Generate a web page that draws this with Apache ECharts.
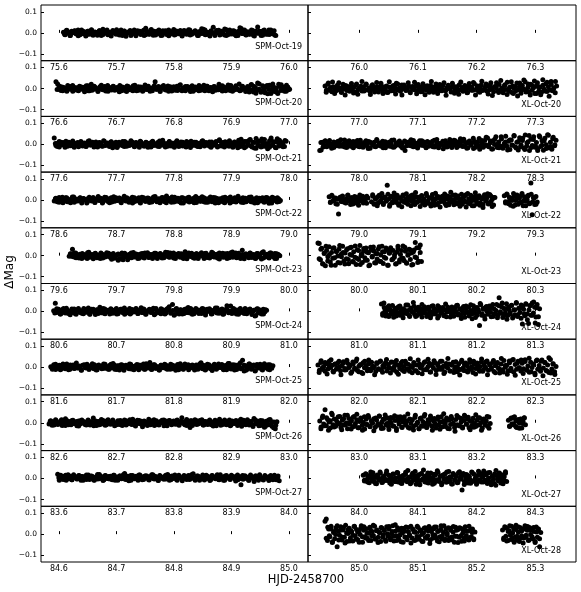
<!DOCTYPE html>
<html><head><meta charset="utf-8">
<script src="https://cdn.jsdelivr.net/npm/echarts@6/dist/echarts.min.js"></script>
<style>html,body{margin:0;padding:0;background:#fff}#c{width:581px;height:592px}</style>
</head><body><div id="c"></div>
<script>
// ---------- tick labels ----------
const leftTicks = [
  [75.6,75.7,75.8,75.9,76.0],[76.6,76.7,76.8,76.9,77.0],[77.6,77.7,77.8,77.9,78.0],
  [78.6,78.7,78.8,78.9,79.0],[79.6,79.7,79.8,79.9,80.0],[80.6,80.7,80.8,80.9,81.0],
  [81.6,81.7,81.8,81.9,82.0],[82.6,82.7,82.8,82.9,83.0],[83.6,83.7,83.8,83.9,84.0],
  [84.6,84.7,84.8,84.9,85.0]];
const rightTicks = [
  [76.0,76.1,76.2,76.3],[77.0,77.1,77.2,77.3],[78.0,78.1,78.2,78.3],[79.0,79.1,79.2,79.3],
  [80.0,80.1,80.2,80.3],[81.0,81.1,81.2,81.3],[82.0,82.1,82.2,82.3],[83.0,83.1,83.2,83.3],
  [84.0,84.1,84.2,84.3],[85.0,85.1,85.2,85.3]];
const yTicks = [-0.1, 0.0, 0.1];
const leftLabels = ['SPM-Oct-19','SPM-Oct-20','SPM-Oct-21','SPM-Oct-22','SPM-Oct-23','SPM-Oct-24','SPM-Oct-25','SPM-Oct-26','SPM-Oct-27',''];
const rightLabels = ['','XL-Oct-20','XL-Oct-21','XL-Oct-22','XL-Oct-23','XL-Oct-24','XL-Oct-25','XL-Oct-26','XL-Oct-27','XL-Oct-28'];

// ---------- observations: time segments (HJD-2458700) and ΔMag values (mmag), two interleaved sets ----------
const spm19T = [[75.608, 75.977],[75.610, 75.975]];
const spm19Y = [[3,-9,12,-2,-13,7,0,10,-5,-14,5,13,-4,2,-10,8,-7,15,-11,4,
0,-6,10,-13,17,-2,7,-9,3,-15,11,2,-7,5,-10,13,-3,8,-16,1,
6,-12,4,14,-5,10,-2,-8,5,-13,22,0,-7,12,-3,8,-10,2,13,-5,
-11,3,10,-2,-14,6,1,16,-8,5,-4,11,-13,2,8,-7,15,-10,3,-1,
10,-5,-12,6,20,-3,13,-8,2,-15,5,26,-6,11,0,-10,8,-2,18,-13,
3,14,-5,10,-8,2,-12,6,21,-3,13,-10,5,-7,0,11,-15,8,28,-2,
6,-11,14,-5,3,-8,13,-3,10,-13],
[-7,11,4,-12,2,9,-4,14,-9,0,6,-15,8,-2,12,-6,3,-11,10,1,
-8,5,13,-3,-10,7,-1,15,-5,4,-13,9,-7,2,11,-4,6,-14,0,8,
-2,12,-9,5,-6,16,-11,3,7,-3,-12,10,1,-8,14,-5,4,-10,9,-1,
6,-15,11,-4,2,13,-7,0,8,-12,5,-3,17,-9,3,-6,10,-2,-13,7,
12,-5,1,-10,15,-8,4,-1,9,-14,6,24,-3,11,-9,2,-6,13,-11,5,
-2,8,-13,10,0,-7,14,-4,6,-10]];
const spm20T = [[76.595, 77.001],[76.597, 76.999]];
const spm20Y = [[32,22,-5,8,-11,3,-7,14,-2,10,-13,5,0,-8,11,-3,6,-15,2,13,
-10,20,-5,8,-2,-11,3,16,-6,10,-3,-13,5,0,11,-8,2,-5,14,-10,
6,-2,-14,10,3,-7,13,-3,-11,8,0,5,-8,17,-5,11,-13,2,6,32,
-3,10,-10,3,14,-6,0,-13,8,-2,5,-8,11,-5,18,-11,2,10,-3,6,
-14,13,0,-6,3,-10,8,-2,16,-5,11,-11,5,-3,10,-8,2,20,-6,13,
-2,-10,6,-5,14,-13,3,8,-3,22,-8,11,0,-11,5,-16,17,-6,10,-22,
26,-3,-18,13,-10,6,-25,16,-5,21,-14,3,-23,10,18,-8,2,-13,6,-3],
[-4,12,-9,6,1,-13,10,-2,15,-7,4,-11,8,0,-5,13,-10,3,-8,11,
2,-14,9,-3,6,-12,14,-1,-7,10,-4,5,-15,8,1,-9,12,-6,3,-11,
16,-2,-8,7,-13,4,11,-5,0,-10,13,-3,6,-14,9,2,-7,12,-4,-12,
8,0,-9,15,-6,3,-11,10,-1,5,-13,7,-3,14,-8,1,-10,11,-5,4,
-15,9,2,-6,12,-12,6,-2,17,-9,3,-7,13,-4,-11,8,1,-14,10,-3,
19,-16,5,-8,22,-12,9,-20,15,-5,-24,12,3,-17,20,-9,7,-13,16,-6]];
const spm21T = [[77.592, 77.995],[77.594, 77.993]];
const spm21Y = [[30,-6,5,-13,10,0,-3,14,-10,6,-2,11,-14,3,8,-5,13,-8,2,-11,
5,16,-3,10,-6,0,-13,8,3,-10,14,-2,6,-5,11,-16,2,10,-8,5,
-3,13,-11,0,6,-6,17,-2,-10,8,3,-14,11,-5,2,10,-8,5,-13,14,
0,-3,8,-11,6,19,-6,2,-10,13,-2,5,-14,10,-5,3,11,-8,0,-13,
8,-3,14,-6,2,10,-11,5,-2,16,-8,6,-5,11,-14,3,0,13,-10,21,
-3,8,-13,5,-6,17,0,-10,11,-2,-16,6,24,-5,13,-11,3,20,-8,10,
-18,27,-3,14,-13,6,23,-10,2,-14,30,-5,11,-17,8,19,-6,3,-11,14],
[4,-11,13,-3,8,-14,2,10,-7,15,-5,0,-12,9,-2,6,-10,14,-4,3,
-13,11,-1,7,-8,16,-6,2,-11,12,-3,5,-15,9,0,-7,13,-9,4,-2,
10,-12,6,-5,14,-1,-9,8,-14,3,11,-6,1,-10,15,-4,7,-13,2,12,
-8,5,-3,17,-11,0,9,-6,13,-2,-15,6,10,-7,3,-12,14,-4,8,-1,
-10,11,-5,4,-13,16,-8,2,12,-3,-9,7,-14,10,-6,19,-11,5,-17,13,
-4,22,-13,8,-19,15,-7,25,-10,3,-21,17,-5,12,-15,26,-8,9,-12,18]];
const spm22T = [[78.592, 78.985],[78.594, 78.983]];
const spm22Y = [[-5,8,0,-11,6,13,-3,10,-8,2,-13,5,14,-6,3,-2,11,-10,6,0,
-14,8,3,-5,10,-11,2,16,-3,6,-8,13,-2,5,-13,10,0,-6,11,-3,
8,-10,3,17,-5,0,-11,6,13,-8,2,-3,10,-14,5,11,-6,0,8,-2,
-10,14,3,-5,6,-13,10,2,-8,19,-3,5,-11,0,13,-6,8,-2,-14,11,
3,-5,10,-10,2,6,-13,16,-3,8,-6,0,11,-11,5,-2,14,-8,3,10,
-5,-13,6,2,-10,13,-3,8,-14,5,0,11,-6,17,-2,-11,10,3,-8,6,
-3,14,-10,5,2,-13,8,-5,11,0,-6,10,-16,3,13,-2,6,-10,5,-3],
[6,-9,12,-2,-13,4,10,-6,0,14,-11,3,-5,9,-14,7,1,-8,13,-3,
11,-12,5,-1,8,-15,2,12,-7,4,-10,15,-4,0,9,-13,6,-2,11,-8,
3,-14,10,-5,7,-11,13,1,-6,9,-12,4,-3,16,-9,2,-7,12,-1,-13,
8,-4,14,-10,5,0,-8,11,-15,6,-2,13,-7,3,10,-12,1,-5,15,-9,
4,-11,9,-3,12,-14,7,0,-6,10,-13,5,-1,14,-8,2,-10,11,-4,6,
-12,8,-2,13,-9,3,-15,10,-5,7,0,-11,12,-6,4,-14,9,-3,11,-7]];
const spm23T = [[79.618, 79.984],[79.620, 79.982]];
const spm23Y = [[-3,8,30,-6,13,0,-11,5,10,-8,2,-14,16,-5,6,-2,11,-10,3,-13,
8,0,-6,14,-3,5,-17,10,-8,2,-22,-13,6,-20,11,-5,3,-10,13,0,
-6,8,-14,5,-2,10,-11,3,14,-8,0,6,-5,11,-13,2,8,-3,-10,16,
5,-6,13,-2,-11,6,0,10,-8,3,-14,19,-5,8,-2,11,-10,5,0,-13,
6,14,-3,10,-8,2,-11,5,13,-6,0,8,-16,3,11,-5,-2,10,-10,6,
17,-3,13,-8,2,-13,26,-5,8,0,-10,11,-3,5,-14,10,2,-6,14,-11,
3,6,-8,13,-2,-5,10,-13,5,0],
[9,-4,12,-10,2,7,-13,5,-1,14,-8,3,-15,10,-6,0,13,-11,4,-3,
11,-9,6,-12,1,8,-16,12,-5,2,-19,7,-10,15,-3,4,-12,9,-7,13,
-1,-9,6,-14,11,2,-5,10,-11,4,-3,15,-8,0,12,-13,7,-2,9,-10,
5,-15,13,-4,1,-12,10,-6,8,-1,-14,11,-9,3,16,-5,6,-11,12,-2,
-8,9,-13,4,14,-7,1,-10,11,-3,6,-15,8,-4,13,-9,2,-12,10,-6,
-16,19,-5,7,-11,12,-2,-14,9,3]];
const spm24T = [[80.591, 80.961],[80.593, 80.959]];
const spm24Y = [[3,38,-5,10,-13,2,14,-8,6,-2,-16,11,0,-10,5,13,-6,3,-11,8,
-3,16,-14,2,10,-5,6,-10,19,0,-8,11,-2,5,-13,8,3,-6,14,-11,
2,10,-3,-14,6,0,13,-8,5,-2,11,-10,3,17,-6,8,-13,0,10,-5,
6,-16,14,-3,2,-11,8,5,-8,13,22,-5,32,-19,10,-2,-13,6,3,-10,
11,-6,0,14,-14,5,-3,8,-10,2,13,-5,-17,10,0,6,-11,3,16,-8,
5,-2,11,-13,8,26,-6,2,-10,14,-3,6,-14,10,0,-5,13,-11,3,8,
-8,2,-22,11,-5,6,-13,10,-2,5],
[-8,12,5,-13,9,-3,15,-10,2,-6,11,-14,7,0,-9,13,-4,6,-12,10,
-1,-15,8,3,-7,14,-11,4,-2,12,-9,6,-13,1,10,-5,16,-8,3,-12,
9,-2,13,-10,5,-6,11,-14,0,8,-4,15,-11,2,-7,12,-3,-13,10,6,
-9,4,-15,13,-1,7,-12,9,-5,18,-8,1,-11,14,-3,5,-10,11,-6,0,
12,-13,4,-2,16,-9,7,-14,3,10,-7,25,-4,8,-12,2,13,-6,-10,9,
-3,11,-15,5,-20,12,-8,4,-12,7]];
const spm25T = [[81.586, 81.972],[81.588, 81.970]];
const spm25Y = [[2,-10,6,13,-5,0,-13,8,3,-8,14,-2,-11,5,10,-6,19,-3,0,-14,
8,11,-5,2,-10,6,16,-8,3,-13,10,-2,5,-6,13,0,-11,8,-3,17,
-10,3,6,-14,11,-5,0,8,-2,-8,13,3,-13,6,-3,10,-6,2,14,-11,
5,-2,22,-10,3,11,-6,0,-14,8,5,-3,10,-11,2,13,-8,6,-5,0,
-13,16,3,-10,8,-2,11,-6,0,5,-14,10,-3,6,20,-8,2,-11,13,-5,
3,-16,10,0,-6,14,-2,8,-10,5,-13,17,-3,6,11,-14,-5,10,2,-8,
32,-19,6,-11,14,0,-6,10,-16,5,-2,13,-10,3,8,-5,11,-13,2,6],
[-5,11,-12,3,8,-9,14,-2,6,-13,10,0,-7,12,-4,5,-15,9,-1,13,
-10,4,-3,11,-14,7,2,-8,15,-6,1,-11,13,-2,9,-12,5,-5,10,-15,
6,-1,14,-9,3,-7,12,-13,8,0,-10,16,-4,5,-12,11,-6,2,-14,9,
-3,13,-8,4,-11,10,1,-15,12,-5,7,-9,14,-2,-13,6,10,-7,3,-11,
15,-4,8,-14,2,11,-8,-3,13,-10,5,-1,12,-13,7,-6,17,-9,0,10,
-12,4,20,-7,9,-15,3,14,-11,6,-19,12,-4,8,-14,16,-2,-10,11,-6]];
const spm26T = [[82.583, 82.979],[82.585, 82.977]];
const spm26Y = [[-6,10,3,-11,14,0,-5,8,-13,5,19,-2,-10,6,11,-3,2,-14,8,-6,
13,3,-8,0,10,-11,5,22,-3,-13,6,2,-6,11,-2,-10,14,-5,3,8,
-14,0,10,-8,5,-3,13,-11,2,6,-5,16,-10,3,-2,11,-6,-19,8,0,
-13,5,10,-3,14,-8,2,-11,6,0,13,-5,-14,10,3,-6,8,-2,11,-10,
5,24,-3,6,-13,2,-22,10,-5,14,-8,0,11,-2,-11,6,3,-6,13,-10,
2,8,-14,5,16,-3,-8,10,0,-5,13,-11,6,-2,3,-13,10,17,-6,2,
-10,14,-3,5,-11,20,-2,8,-14,11,-5,0,-17,6,13,-8,3,-24,-28,5],
[7,-12,3,11,-8,0,14,-5,-13,9,2,-10,12,-3,6,-15,10,-1,5,-11,
13,-6,1,-14,8,4,-9,15,-2,-12,10,3,-7,13,-4,-10,6,11,-13,0,
9,-5,14,-8,2,-15,12,-3,7,-11,5,-1,16,-9,3,-13,10,-6,1,12,
-14,8,-2,11,-10,4,-7,13,-12,6,0,-9,15,-4,9,-13,2,11,-6,-1,
14,-11,5,-8,10,-3,-15,12,-5,7,-12,3,13,-9,1,-14,8,-4,11,-7,
4,-16,12,-2,9,-11,6,-18,14,-5,2,-13,10,-21,7,-9,15,-17,3,-12]];
const spm27T = [[83.598, 83.983],[83.600, 83.981]];
const spm27Y = [[20,-8,12,3,-5,15,7,-2,11,-6,18,4,-3,13,0,9,-8,6,16,2,
-5,12,7,-9,3,19,-2,11,6,-6,14,0,9,-3,4,15,-8,7,2,12,
-2,6,23,-5,11,3,-9,14,0,7,-3,16,4,-6,9,2,12,-5,6,18,
-2,11,3,-8,14,6,0,9,-3,19,4,-6,12,2,7,-9,15,3,-2,11,
6,-5,14,0,9,22,-3,4,12,-8,2,16,6,-2,11,3,-6,14,7,0,
9,-5,18,4,-9,12,2,6,-3,15,7,-2,11,-6,3,-30,14,0,9,4,
-8,16,3,-3,12,6,-9,11,2,-5,14,7,-2,9,3,-6,15,0,4,-11],
[3,15,-4,10,-8,18,2,-6,12,6,-2,14,-9,9,4,-5,16,0,11,-7,
7,-3,19,2,-10,13,5,-1,10,-6,15,3,-8,12,0,17,-4,8,-11,14,
6,-2,11,-9,16,1,-5,13,4,-7,10,18,-3,7,-10,12,2,-4,15,5,
-8,11,0,16,-6,9,3,-11,14,-2,8,-5,17,1,-9,12,6,-3,10,-7,
15,2,-10,13,4,-1,18,-6,9,0,-8,14,3,-5,11,7,-12,16,-2,8,
-4,13,1,-9,10,5,-14,12,-3,17,0,-7,11,4,-10,14,-1,8,-6,12]];

const xl20T = [[76.942, 77.336],[76.944, 77.334]];
const xl20Y = [[12,-8,20,-3,5,-15,9,0,-11,16,-5,3,-19,7,-2,14,-9,4,-13,10,
-1,6,-17,22,-6,2,11,-12,8,-4,18,-7,1,-14,13,-2,5,-10,9,-16,
3,15,-8,0,-5,12,-18,6,-3,10,-11,4,25,-7,2,-13,17,-1,8,-9,
-4,13,-15,5,0,-6,11,-10,19,-2,7,-14,3,9,-8,1,-17,14,-5,6,
-12,21,-3,8,-9,2,16,-6,-11,4,12,-1,-16,7,10,-7,3,-13,18,-4,
5,-10,14,0,-19,9,-2,6,-8,23,-5,11,-14,2,17,-9,-3,8,-12,13,
-6,28,-1,-15,10,4,-11,19,-7,3,-20,15,-4,30,-9,7,-17,12,2,-13,
26,-6,9,-22,14,-2,32,-10,5,-16,20,-8,3,-24,11,27,-12,6,-18,16,
-3,22,-14,8,-7,33,-11,4,-20,12],
[-18,26,-9,31,-24,5,28,-14,20,-30,11,-3,24,-21,15,-27,2,33,-12,22,
-6,-28,18,-16,29,-2,25,-23,8,-19,32,-11,14,-26,21,0,-31,17,-7,27,
-20,10,30,-25,4,-15,23,-29,13,-5,34,-18,7,-24,19,-10,28,-32,16,-1,
25,-22,9,-27,31,-13,3,-20,24,-8,29,-30,12,-17,35,-4,21,-26,14,-33,
6,27,-19,38,-11,18,-28,1,32,-23,10,-35,26,-7,40,-16,22,-31,15,36,
-24,8,-29,42,-12,30,-36,19,-3,34]];
const xl21T = [[77.933, 78.335],[77.935, 78.333]];
const xl21Y = [[-30,-27,10,-5,14,-12,3,18,-8,0,-15,7,-3,12,-10,21,-6,2,-13,9,
-1,16,-9,4,-17,11,-4,6,-11,19,-2,-14,8,1,-7,13,-19,5,-3,10,
-12,17,-5,2,-9,14,-1,-16,7,-6,11,3,-13,20,-8,4,-2,15,-10,6,
-15,-30,9,-4,12,-7,1,18,-11,5,-18,10,-3,16,-6,2,-14,13,-9,7,
0,-12,19,-5,8,-16,4,-1,14,-8,11,-13,3,22,-10,6,-4,17,-15,9,
-2,12,-7,24,-11,5,-17,15,-3,8,-20,13,1,-9,27,-6,10,-14,18,-4,
30,-12,7,-22,16,-1,35,-15,11,-8,25,-19,4,38,-10,14,-25,20,-5,42,
-13,9,-27,31,-3,18,-18,44,-9,12,-30,24,-6,36,-14,8,-22,40,-11,16,
-28,28,-2,45,-17,10,-24,33,-7,19],
[8,-13,17,-4,2,-19,11,-7,14,0,-10,20,-15,5,-2,13,-8,18,-12,3,
-6,16,-20,9,1,-11,22,-5,7,-16,12,-1,-9,19,-14,4,10,-3,-18,15,
-7,6,21,-12,2,-10,17,-4,11,-17,8,-2,14,-13,23,-6,3,-21,16,-9,
5,-15,19,0,-8,26,-11,12,-19,7,-3,29,-14,9,-24,18,-6,33,-10,15,
-22,24,-1,-16,36,-8,11,-27,20,-4,39,-18,13,-12,28,-25,6,41,-15,22,
-9,-30,34,-5,17,-20,43,-11,26,-2]];
const xl22T = [[78.949, 79.015],[79.021, 79.231],[79.247, 79.303],[78.951, 79.013],[79.023, 79.229],[79.249, 79.301]];
const xl22Y = [
[15,-10,22,-4,8,-18,3,-66,12,-7,19,0,-13,6,24,-2,-21,10,-8,16,-15,4,-25,11,-5,18,-11,2,-16,9],
[-8,18,-20,5,12,-14,22,-3,9,-17,14,-6,70,3,-22,16,-9,1,19,-12,
7,-18,11,-4,24,-10,2,-15,13,-1,20,-7,5,-21,15,-11,8,-3,17,-16,
4,-9,21,-5,10,-19,12,-2,-25,6,16,-13,9,-7,18,-1,-17,11,3,-23,
14,-8,22,-4,7,-14,19,-10,2,-20,13,-6,25,-12,5,-18,10,-3,-27,17,
-9,8,20,-15,4,-22,15,-5,11,-19,26,-7,3,-24,12],
[20,-15,28,-8,12,-25,5,-30,18,-3,24,-20,9,-12,30,-6,15,-28,2,22,-18,80,-70,10,-22,16,-10],
[-12,18,-3,9,-20,6,14,-8,1,-15,21,-5,11,-19,4,13,-10,23,-2,-14,8,17],
[25,-18,6,-28,20,-9,31,-22,12,-3,27,-30,16,-13,33,-6,22,-25,9,-32,
18,-11,29,-20,4,-27,24,-15,35,-8,13,-31,21,-2,-24,30,-16,8,-29,26,
-10,32,-21,15,-34,11,-5,28,-26,19,-14,36,-1,-23,23,-18,7,-30,27,-12,
17,-33,30,-7,22,-28,3,34,-19,14,-25,10,-36,25,-4,29,-15,20,-31,12],
[-8,25,-18,10,-3,30,-24,6,16,-12,22,-28,4,-6,19,-15,27,-9,12,-20]];
const xl23T = [[79.930, 80.106],[79.932, 80.104]];
const xl23Y = [[60,58,-20,35,-40,10,-48,25,-5,42,-30,15,-12,38,-45,20,-2,30,-35,8,
45,-25,12,-15,33,-38,5,40,-28,18,-8,-42,28,-18,48,0,-32,22,-10,36,
-22,14,-44,26,-6,41,-34,9,-16,32,-26,3,44,-37,19,-12,29,-46,11,38,
-20,24,-8,-40,16,34,-30,6,-14,46,-24,21,-36,2,30,-18,13,-42,27,62,
-10,-33,37,15,-28],
[-15,30,-38,12,44,-25,6,-45,35,-10,20,-32,48,-5,15,-40,28,-18,38,2,
-30,46,-12,25,-42,8,34,-22,16,-48,40,-3,22,-35,10,42,-28,18,-8,36,
-46,14,30,-16,4,-38,44,-20,24,-12,40,-34,6,28,-44,18,-6,38,-26,50]];
const xl24T = [[81.038, 81.307],[81.040, 81.305]];
const xl24Y = [[35,-18,40,5,-12,20,-25,10,-3,28,-15,2,-22,14,-8,25,-1,-19,12,-6,
30,-11,4,-24,16,-2,42,-14,8,-20,19,-5,11,-27,3,22,-9,15,-17,6,
-30,24,-4,13,-13,1,27,-21,9,-7,18,-16,5,-26,21,-1,14,-10,7,-23,
17,-3,29,-12,10,-18,2,23,-28,12,-6,20,-15,4,-35,26,-8,16,-19,8,
-67,31,-11,13,-22,19,0,-14,25,-4,18,-25,11,-9,33,-17,64,-2,22,-29,
14,-7,36,-20,9,-12,28,-31,6,-16,38,-24,15,-5,30,-60,10,-21,34,-13,
-58,26,-18,40,-8,20,-27,32,-62,12],
[-10,18,-22,8,26,-14,2,-28,15,-5,22,-18,11,-30,6,-8,30,-20,13,-2,
24,-25,4,17,-12,32,-7,10,-24,20,-1,-16,27,-10,5,-32,19,-6,14,-21,
35,-3,9,-27,21,-13,1,28,-17,12,-34,16,-8,25,-4,-22,31,-11,7,-29,
18,-2,37,-19,10,-36,23,-6,15,-26,33,-14,4,-30,26,-9,40,-20,12,-38,
20,-5,29,-24,8,42,-16,14,-33,24,-11,36,-40,6,28,-18,44,-55,17,-26]];
const xl25T = [[81.930, 82.335],[81.932, 82.333]];
const xl25Y = [[10,-15,22,-5,3,-20,16,-9,27,-2,8,-24,13,-11,19,0,-17,6,25,-7,
-13,18,-1,9,-22,14,-6,28,-16,4,11,-26,20,-3,7,-18,15,-10,23,-4,
2,-21,17,-8,26,-14,5,-1,21,-19,12,-5,24,-12,0,16,-25,9,-7,19,
-15,3,28,-9,13,-20,6,-2,22,-17,10,-27,15,-4,8,-13,25,-11,1,18,
-23,12,-6,20,-16,7,-1,27,-10,4,-24,17,-3,14,-19,9,23,-8,2,-22,
16,-12,26,-5,11,-18,5,-14,21,0,-26,13,-7,19,-11,3,24,-20,8,-2,
29,-15,10,-9,22,-21,6,17,-4,-28,14,-13,31,-1,9,-17,20,-6,33,-23,
12,-10,27,-3,-19,18,-8,35,-14,5,-25,23,-2,15,-29,30,-11,7,-20,34,
-5,21,-16,10,-26,36,-9,16,-22,3],
[-26,30,-12,22,-33,8,35,-20,15,-5,28,-36,18,-14,32,-2,-29,24,-9,38,
-22,11,-31,27,-6,34,-17,4,-37,20,-11,29,-25,14,36,-3,-28,23,-15,31,
-34,9,26,-21,17,-8,39,-27,12,-18,33,-1,-32,21,-13,37,-24,6,30,-35,
16,-10,28,-30,3,40,-19,13,-26,25,-4,-38,32,-16,19,-23,35,-7,27,-33,
10,-20,38,-12,24,-36,14,-2,31,-27,21,-9,41,-24,7,-34,29,-17,36,-39,
18,-5,33,-30,26,-14,42,-22,11,-37,34,-8,28,-41,22,-19,44,-28,15,-35]];
const xl26T = [[82.933, 83.223],[83.254, 83.283],[82.935, 83.221],[83.256, 83.281]];
const xl26Y = [
[8,-20,25,-6,62,-14,15,3,-25,45,-9,18,-17,5,28,-3,-22,12,-11,35,
-1,-28,20,-7,10,-19,30,-4,14,-24,6,22,-13,1,-30,17,-8,26,-16,9,
-2,19,-21,13,-5,32,-12,4,-26,16,-10,24,-18,7,-1,21,-15,11,-27,27,
-6,15,-20,3,29,-11,8,-23,18,-4,12,-17,25,-9,2,-29,20,-14,6,31,
-3,-21,14,-7,23,-16,10,-1,-25,17,-12,5,28,-19,9,-5,22,-27,13,-8,
19,-2,-23,15,-10,26,-15,4,-20,11,30,-6,16,-24,7,-13,21,-3,-18,12,
24,-9,1,-26,18,-11,8,-16,27,-4],
[12,-18,20,-5,25,-12,8,-22,15,-2,18,-25,6,22,-10],
[-28,32,-14,24,-35,10,38,-20,16,-6,30,-33,19,-11,36,-2,-30,26,-17,40,
-24,13,-36,28,-8,34,-19,5,-38,22,-12,31,-27,17,37,-4,-32,25,-15,33,
-37,9,29,-22,18,-10,41,-26,14,-34,35,-1,-29,23,-16,39,-23,7,32,-36,
20,-9,27,-31,4,43,-18,12,-28,30,-5,-40,34,-13,21,-25,36,-7,26,-33,
11,-21,38,-12,24,-35,15,-3,30,-26],
[-15,22,-8,28,-20,10,-26,17,-4,24]];
const xl27T = [[84.007, 84.251],[84.009, 84.249]];
const xl27Y = [[15,-12,22,-5,8,-20,18,-2,27,-15,5,-25,12,-8,30,0,-18,10,-3,24,
-10,16,-22,6,-6,20,-14,3,28,-17,9,-1,-24,14,-9,19,-4,38,-13,7,
-19,25,-7,11,-27,2,17,-11,21,-5,40,-16,13,-2,-21,8,26,-10,4,-23,
18,-6,29,-14,10,-30,15,-3,22,-18,1,33,-12,6,-26,19,-8,12,-20,27,
-4,9,-55,24,-15,3,17,-22,11,-7,31,-13,20,-1,-28,14,-10,25,-17,6,
35,-9,16,-24,2,28,-19,10,-5,21,-32,13,-11,26,-3,18,-25,8,32,-14],
[-8,20,-17,4,31,-12,9,-24,16,-3,25,-19,7,-10,35,-6,13,-28,21,-1,
-14,27,3,-21,11,-7,29,-16,6,-25,18,-4,33,-11,14,-30,23,-2,9,-18,
26,-9,1,-27,20,-13,36,-5,12,-22,17,-1,30,-15,8,-26,24,-7,11,-19,
32,-3,15,-29,19,-10,5,-23,28,-12,2,-20,34,-6,16,-17,22,-8,27,-14,
-30,10,-24,38,-2,18,-21,13,-9,25]];
const xl28T = [[84.942, 85.197],[85.244, 85.309],[84.944, 85.195],[85.246, 85.307]];
const xl28Y = [
[61,72,-30,25,-12,38,-40,8,-22,30,-60,15,-5,35,-28,20,-15,42,-35,3,
28,-18,10,-32,36,-8,22,-25,14,-2,40,-38,18,-12,26,-20,5,33,-30,12,
-6,38,-24,20,-15,8,-35,29,-3,17,-28,35,-10,24,-20,2,40,-32,14,-8,
30,-22,19,-36,6,27,-14,34,-26,11,-4,38,-18,22,-30,9,-11,32,-24,16,
-2,-35,28,-16,20,-8,36,-28,12,-20,26,-5,34,-32,15,-12,40,-22,8,-30,
24,-3,30,-18,18,-26,10,-38,33,-10,22,-15,28,-34,6,-20,35,-8,14,-28,
19,-12,25,-22,10],
[20,-25,35,-10,28,-30,15,-5,38,-20,25,-15,42,-28,10,-35,30,-8,22,-18,40,-12,18,-30,32,-2,26,-22,12,-40,34,-15,24,-60,8],
[-20,33,-8,24,-36,12,-2,40,-28,18,-14,30,-42,6,22,-32,15,-5,38,-24,
10,-38,28,-12,35,-18,4,-30,26,-8,42,-22,16,-40,8,31,-15,20,-34,2,
36,-26,12,-10,44,-30,18,-4,28,-38,14,-16,32,-6,-42,24,10,-28,38,-12,
20,-34,6,30,-20,16,-44,26,-2,34,-18,12,-36,22,-8,40,-24,4,-30,28,
-14,36,-10,18,-40,30,-6,24,-32,14,-22,38,-16,8,-26],
[-18,30,-32,12,40,-25,6,-38,22,-10,34,-20,15,-42,28,-5,36,-28,18,-12,32,-35,10,25,-22]];

const leftPanels = [[spm19T,spm19Y],[spm20T,spm20Y],[spm21T,spm21Y],[spm22T,spm22Y],[spm23T,spm23Y],
  [spm24T,spm24Y],[spm25T,spm25Y],[spm26T,spm26Y],[spm27T,spm27Y],null];
const rightPanels = [null,[xl20T,xl20Y],[xl21T,xl21Y],[xl22T,xl22Y],[xl23T,xl23Y],[xl24T,xl24Y],
  [xl25T,xl25Y],[xl26T,xl26Y],[xl27T,xl27Y],[xl28T,xl28Y]];

// ---------- build chart ----------
const FONT = 'DejaVu Sans';
const TOP = 5, H = 55.7;
const COLS = [{left: 41, width: 267, padL: 0.031, padR: 0.033, labR: 6, labB: 13.6},
              {left: 308, width: 268, padL: 0.087, padR: 0.069, labR: 15, labB: 11.5}];
const grids = [], xAxes = [], yAxes = [], series = [], graphics = [];
function fmt(v) { return Number(v).toFixed(1).replace('-', '\u2212'); }

function toPoints(panel) {
  const pts = [];
  if (!panel) return pts;
  const [segs, vals] = panel;
  segs.forEach((s, k) => {
    const ys = vals[k], n = ys.length;
    ys.forEach((v, i) => pts.push([s[0] + (s[1] - s[0]) * i / (n - 1), v / 1000]));
  });
  return pts;
}

function addPanel(col, row, ticks, label, panel) {
  const idx = grids.length;
  const c = COLS[col];
  const top = TOP + row * H;
  grids.push({left: c.left, width: c.width, top: top, height: H, show: true,
    borderColor: '#000', borderWidth: 1, backgroundColor: 'transparent', containLabel: false});
  xAxes.push({type: 'value', gridIndex: idx,
    min: ticks[0] - c.padL, max: ticks[ticks.length - 1] + c.padR,
    axisLine: {show: false}, splitLine: {show: false},
    axisTick: {show: true, inside: true, length: 3, customValues: ticks, lineStyle: {color: '#000', width: 1}},
    axisLabel: {show: true, customValues: ticks, formatter: fmt, fontSize: 8, fontFamily: FONT, color: '#000', margin: 3}});
  yAxes.push({type: 'value', gridIndex: idx, min: -0.132, max: 0.132,
    axisLine: {show: false}, splitLine: {show: false},
    axisTick: {show: true, inside: true, length: 3, customValues: yTicks, lineStyle: {color: '#000', width: 1}},
    axisLabel: {show: col === 0, customValues: yTicks, formatter: fmt, fontSize: 7.5, fontFamily: FONT, color: '#000', margin: 4}});
  series.push({type: 'scatter', xAxisIndex: idx, yAxisIndex: idx, data: toPoints(panel),
    symbol: 'circle', symbolSize: 5, itemStyle: {color: '#000', opacity: 1}, silent: true, animation: false, clip: true});
  if (label) {
    graphics.push({type: 'text', x: c.left + c.width - c.labR, y: top + H - c.labB, z: 100,
      style: {text: label, fill: '#000', fontSize: 8, fontFamily: FONT,
        align: 'right', verticalAlign: 'middle', textAlign: 'right', textVerticalAlign: 'middle'}});
  }
}

for (let r = 0; r < 10; r++) {
  addPanel(0, r, leftTicks[r], leftLabels[r], leftPanels[r]);
  addPanel(1, r, rightTicks[r], rightLabels[r], rightPanels[r]);
}

graphics.push({type: 'text', x: 10, y: 272, rotation: Math.PI / 2, z: 100,
  style: {text: '\u0394Mag', fill: '#000', fontSize: 12, fontFamily: FONT,
    align: 'center', verticalAlign: 'middle', textAlign: 'center', textVerticalAlign: 'middle'}});
graphics.push({type: 'text', x: 306, y: 580, z: 100,
  style: {text: 'HJD-2458700', fill: '#000', fontSize: 11.5, fontFamily: FONT,
    align: 'center', verticalAlign: 'middle', textAlign: 'center', textVerticalAlign: 'middle'}});

const chart = echarts.init(document.getElementById('c'), null, {renderer: 'canvas'});
chart.setOption({
  animation: false,
  backgroundColor: '#fff',
  grid: grids, xAxis: xAxes, yAxis: yAxes, series: series, graphic: graphics
});
</script>
</body></html>
